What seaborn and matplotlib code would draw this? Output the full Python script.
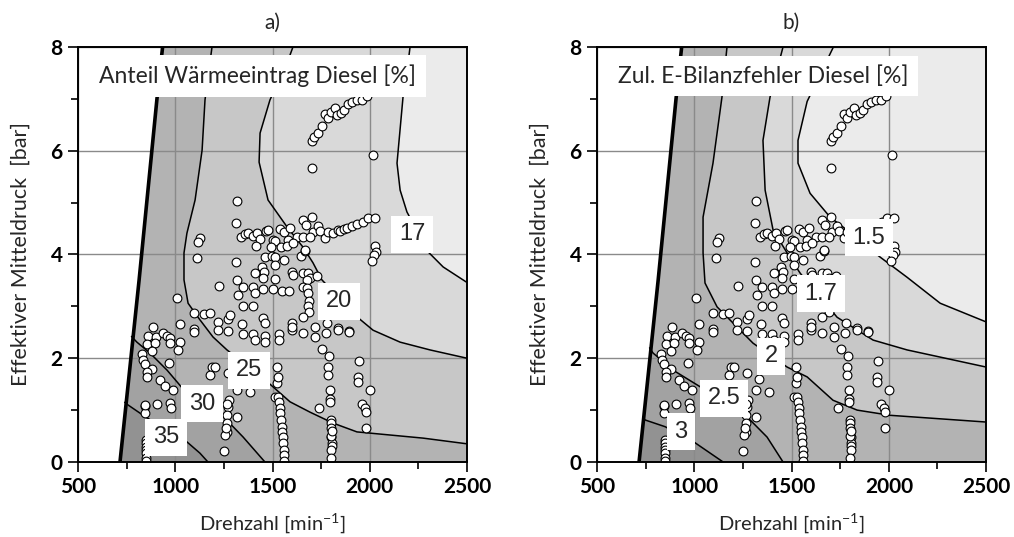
import matplotlib
matplotlib.use("Agg")
import matplotlib.pyplot as plt
import seaborn as sns

# full-load line (left boundary of the map)
full_load_rpm = [716, 814, 906, 935]
full_load_bar = [0.0, 3.5, 7.0, 8.0]

# measured operating points (same in both panels)
pts_rpm = [1703, 1713, 1733, 1754, 1770, 1785, 1800, 1821, 1831, 1850, 1868, 1890, 1909, 1935, 1960, 1985,
           1703, 2017, 1317, 1312, 1127, 1117, 1112, 1312, 1225, 1317,
           1338, 1360, 1374, 1400, 1420, 1436, 1467, 1475, 1503, 1513, 1539, 1559, 1590, 1580, 1626, 1657,
           1657, 1672, 1703, 1708, 1734, 1744, 1770, 1785, 1811, 1837,
           1847, 1868, 1883, 1909, 1934, 1965, 1991, 2027, 2027, 2032, 2022, 2012,
           1415, 1492, 1544, 1575, 1605, 1461, 1497, 1513, 1559, 1647, 1667, 1667, 1693,
           1446, 1456, 1513, 1410, 1451, 1513, 1600, 1605, 1657, 1683, 1693, 1729, 1677,
           1348, 1400, 1451, 1503, 1549, 1585, 1657, 1677, 1683, 1688, 1683, 1690,
           1323, 1410, 1348, 1400,
           1096, 1150, 1179, 1220, 1270, 1281, 1343, 1451, 1461, 1600, 1600,
           1024, 1096, 1096, 1220, 1271, 1348, 1400, 1410, 1461, 1461, 1533, 1533,
           1657, 1600, 1657, 1718, 1718, 1775, 1780, 1837, 1837, 1893, 1893,
           886, 860, 901, 937, 958, 973, 855, 896, 973, 1024, 881, 829, 835, 845, 881, 855, 855, 1014, 968, 1009,
           1189, 1204, 1179, 922, 947, 988, 845, 845, 906, 973, 978,
           1276, 1271, 1266, 1317, 1266, 1266, 1256, 1251, 1262, 1268,
           1317, 1384, 1271, 1330,
           1523, 1523, 1529, 1513, 1529, 1535, 1537, 1540, 1545, 1548, 1550, 1552, 1555, 1557, 1558, 1560,
           850, 850, 848, 848, 850, 850, 850, 845,
           1754, 1790, 1785, 1785, 1795, 1795, 1795, 1739, 1800, 1800, 1802, 1803, 1805, 1805, 1803, 1800, 1800, 1805,
           1945, 1940, 1940, 2002, 1960, 1975, 1980, 1980]
pts_bar = [6.19, 6.27, 6.35, 6.48, 6.71, 6.63, 6.75, 6.82, 6.69, 6.72, 6.78, 6.90, 6.94, 6.98, 6.98, 7.05,
           5.67, 5.92, 5.03, 4.61, 4.32, 4.24, 3.93, 3.86, 3.39, 3.51,
           4.34, 4.40, 4.41, 4.36, 4.41, 4.30, 4.45, 4.47, 4.28, 4.26, 4.49, 4.43, 4.51, 4.28, 4.34, 4.34,
           4.66, 4.57, 4.72, 4.43, 4.55, 4.45, 4.32, 4.43, 4.41, 4.47,
           4.45, 4.49, 4.51, 4.55, 4.59, 4.63, 4.70, 4.70, 4.16, 4.05, 3.99, 3.88,
           4.16, 4.14, 4.14, 4.16, 4.22, 3.95, 3.97, 3.95, 3.89, 3.97, 4.07, 4.09, 4.34,
           3.76, 3.66, 3.80, 3.64, 3.55, 3.53, 3.66, 3.60, 3.64, 3.64, 3.55, 3.59, 3.51,
           3.37, 3.37, 3.33, 3.33, 3.30, 3.30, 3.37, 3.35, 3.25, 3.10, 3.00, 2.90,
           3.22, 3.26, 3.01, 3.01,
           2.87, 2.85, 2.87, 2.70, 2.75, 2.83, 2.66, 2.78, 2.68, 2.68, 2.54,
           2.66, 2.56, 2.50, 2.54, 2.53, 2.47, 2.47, 2.35, 2.43, 2.31, 2.47, 2.35,
           2.80, 2.60, 2.49, 2.60, 2.41, 2.49, 2.68, 2.58, 2.55, 2.53, 2.50,
           2.60, 2.43, 2.41, 2.49, 2.43, 2.39, 2.27, 2.29, 2.29, 2.31, 2.14, 2.08, 1.97, 1.89, 1.79, 1.73, 1.64, 2.16, 1.91, 3.16,
           1.83, 1.83, 1.68, 1.58, 1.46, 1.39, 1.08, 0.95, 1.12, 1.14, 1.04,
           1.19, 1.06, 0.91, 0.87, 0.75, 0.58, 0.52, 0.21, 0.65, 1.12,
           1.39, 1.35, 1.71, 1.60,
           1.83, 1.52, 1.64, 1.25, 1.25, 1.16, 1.04, 0.94, 0.81, 0.67, 0.58, 0.48, 0.37, 0.23, 0.13, 0.02,
           0.42, 0.37, 0.29, 0.23, 0.17, 0.08, 0.02, 1.10,
           2.18, 2.04, 1.83, 1.68, 1.39, 1.21, 1.16, 1.04, 0.81, 0.75, 0.66, 0.48, 0.37, 0.30, 0.23, 0.08, 0.50, 0.60,
           1.95, 1.64, 1.55, 1.39, 1.12, 1.04, 0.96, 0.66]

# panel a) iso-lines "Anteil Waermeeintrag Diesel [%]"
a17_rpm = [2207, 2197, 2171, 2140, 2156, 2191, 2300, 2377, 2500]
a17_bar = [8.0, 7.7, 7.04, 5.76, 5.24, 4.82, 4.05, 3.76, 3.46]
a20_rpm = [1605, 1575, 1487, 1436, 1431, 1477, 1575, 1657, 1708, 1754, 1940, 2017, 2156, 2310, 2500]
a20_bar = [8.0, 7.69, 6.98, 6.34, 5.78, 5.05, 4.53, 4.14, 3.84, 3.51, 2.78, 2.54, 2.31, 2.16, 2.0]
a25_rpm = [1189, 1153, 1138, 1102, 1060, 1045, 1045, 1066, 1127, 1194, 1266, 1487, 1590, 1693, 1811, 1934, 2104, 2274, 2500]
a25_bar = [8.0, 6.98, 6.01, 5.05, 4.41, 4.03, 3.51, 3.06, 2.74, 2.41, 2.16, 1.5, 1.16, 0.96, 0.75, 0.58, 0.52, 0.46, 0.35]
a30_rpm = [775, 803, 870, 958, 1035, 1138, 1230, 1349, 1461]
a30_bar = [2.42, 2.31, 2.10, 1.77, 1.43, 1.10, 0.94, 0.48, 0.0]
a35_rpm = [740, 757, 835, 960, 1050, 1127, 1168]
a35_bar = [1.15, 1.10, 0.90, 0.60, 0.42, 0.17, 0.0]
a_levels = ["17", "20", "25", "30", "35"]
a_label_rpm = [2217, 1842, 1379, 1138, 953]
a_label_bar = [4.39, 3.10, 1.77, 1.12, 0.48]

# panel b) iso-lines "Zul. E-Bilanzfehler Diesel [%]"
b15_rpm = [1715, 1580, 1533, 1533, 1595, 1698, 1785, 1955, 2094, 2264, 2500]
b15_bar = [8.0, 6.95, 6.2, 5.76, 5.18, 4.72, 4.47, 3.95, 3.56, 3.06, 2.7]
b17_rpm = [1456, 1389, 1353, 1364, 1405, 1477, 1544, 1734, 1919, 2094, 2500]
b17_bar = [8.0, 7.03, 6.2, 5.24, 4.47, 4.03, 3.64, 2.79, 2.35, 2.16, 1.83]
b20_rpm = [1168, 1142, 1096, 1045, 1045, 1055, 1117, 1220, 1302, 1477, 1580, 1713, 1837, 2006, 2500]
b20_bar = [8.0, 7.03, 5.76, 4.72, 4.03, 3.45, 2.99, 2.6, 2.29, 1.83, 1.64, 1.19, 1.0, 0.9, 0.77]
b25_rpm = [770, 788, 891, 1030, 1158, 1271, 1374, 1456]
b25_bar = [2.2, 2.1, 1.77, 1.45, 1.23, 0.87, 0.48, 0.0]
b30_rpm = [735, 747, 850, 1000, 1148]
b30_bar = [0.86, 0.81, 0.68, 0.38, 0.0]
b_levels = ["1.5", "1.7", "2", "2.5", "3"]
b_label_rpm = [1898, 1652, 1395, 1153, 932]
b_label_bar = [4.32, 3.24, 2.04, 1.23, 0.58]

# grey shades, lightest (below first level) to darkest
shades = ["#ebebeb", "#d9d9d9", "#c7c7c7", "#b3b3b3", "#a2a2a2", "#929292"]

sns.set_style("ticks")
plt.rcParams["font.family"] = ["Lato", "DejaVu Sans"]

fig = plt.figure(figsize=(10.14, 5.37), dpi=100)
ax_a = fig.add_axes([0.0769, 0.1397, 0.3837, 0.7728])
ax_b = fig.add_axes([0.5888, 0.1397, 0.3837, 0.7728])


def draw_panel(ax, lines, levels, lab_rpm, lab_bar, heading, title):
    # lightest background over the whole map
    ax.fill([500, 2500, 2500, 500], [0, 0, 8, 8], color=shades[0], lw=0, zorder=0.5)
    # region "value >= level" lies below/left of each iso-line
    for i, (r, b) in enumerate(lines):
        xs = r + [r[-1], 500, 500]
        ys = b + [0, 0, b[0]]
        ax.fill(xs, ys, color=shades[i + 1], lw=0, zorder=0.6 + 0.01 * i)
    # nothing left of the full-load line
    ax.fill([500] + full_load_rpm + [500], [0] + full_load_bar + [8], color="white", lw=0, zorder=0.8)

    for r, b in lines:
        sns.lineplot(x=r, y=b, sort=False, estimator=None, color="black", lw=1.1, ax=ax, zorder=3)
    sns.lineplot(x=full_load_rpm, y=full_load_bar, sort=False, estimator=None, color="black", lw=2.6,
                 ax=ax, zorder=3)

    sns.scatterplot(x=pts_rpm, y=pts_bar, s=40, color="white", edgecolor="black", linewidth=0.8,
                    ax=ax, zorder=4)

    for t, x, y in zip(levels, lab_rpm, lab_bar):
        ax.text(x, y, t, ha="center", va="center", fontsize=17, family="Liberation Sans", zorder=6,
                bbox=dict(boxstyle="square,pad=0.32", fc="white", ec="none"))

    ax.text(0.054, 0.93, heading, transform=ax.transAxes, ha="left", va="center", fontsize=16.5,
            zorder=7, bbox=dict(boxstyle="square,pad=0.42", fc="white", ec="none"))

    ax.set_xlim(500, 2500)
    ax.set_ylim(0, 8)
    ax.set_xticks([500, 1000, 1500, 2000, 2500])
    ax.set_xticks([750, 1250, 1750, 2250], minor=True)
    ax.set_yticks([0, 2, 4, 6, 8])
    ax.set_yticks([1, 3, 5, 7], minor=True)
    ax.set_axisbelow(False)
    ax.grid(True, which="major", color="#8a8a8a", lw=1.0, zorder=2)
    ax.tick_params(which="both", direction="out", colors="black", width=1.2)
    ax.tick_params(which="major", length=7, labelsize=15, pad=4)
    ax.tick_params(which="minor", length=5)
    for lbl in ax.get_yticklabels() + ax.get_xticklabels():
        lbl.set_fontweight("bold")
    for s in ax.spines.values():
        s.set_visible(True)
        s.set_color("black")
        s.set_linewidth(1.4)
        s.set_zorder(5)
    ax.set_xlabel(r"Drehzahl [min$^{\mathregular{-1}}$]", fontsize=14.5, labelpad=10)
    ax.set_ylabel("Effektiver Mitteldruck  [bar]", fontsize=15.5, labelpad=14)
    ax.set_title(title, fontsize=15, pad=13)


draw_panel(ax_a, [(a17_rpm, a17_bar), (a20_rpm, a20_bar), (a25_rpm, a25_bar), (a30_rpm, a30_bar),
                  (a35_rpm, a35_bar)], a_levels, a_label_rpm, a_label_bar,
           "Anteil Wärmeeintrag Diesel [%]", "a)")
draw_panel(ax_b, [(b15_rpm, b15_bar), (b17_rpm, b17_bar), (b20_rpm, b20_bar), (b25_rpm, b25_bar),
                  (b30_rpm, b30_bar)], b_levels, b_label_rpm, b_label_bar,
           "Zul. E-Bilanzfehler Diesel [%]", "b)")

fig.savefig("out.png", dpi=100)
